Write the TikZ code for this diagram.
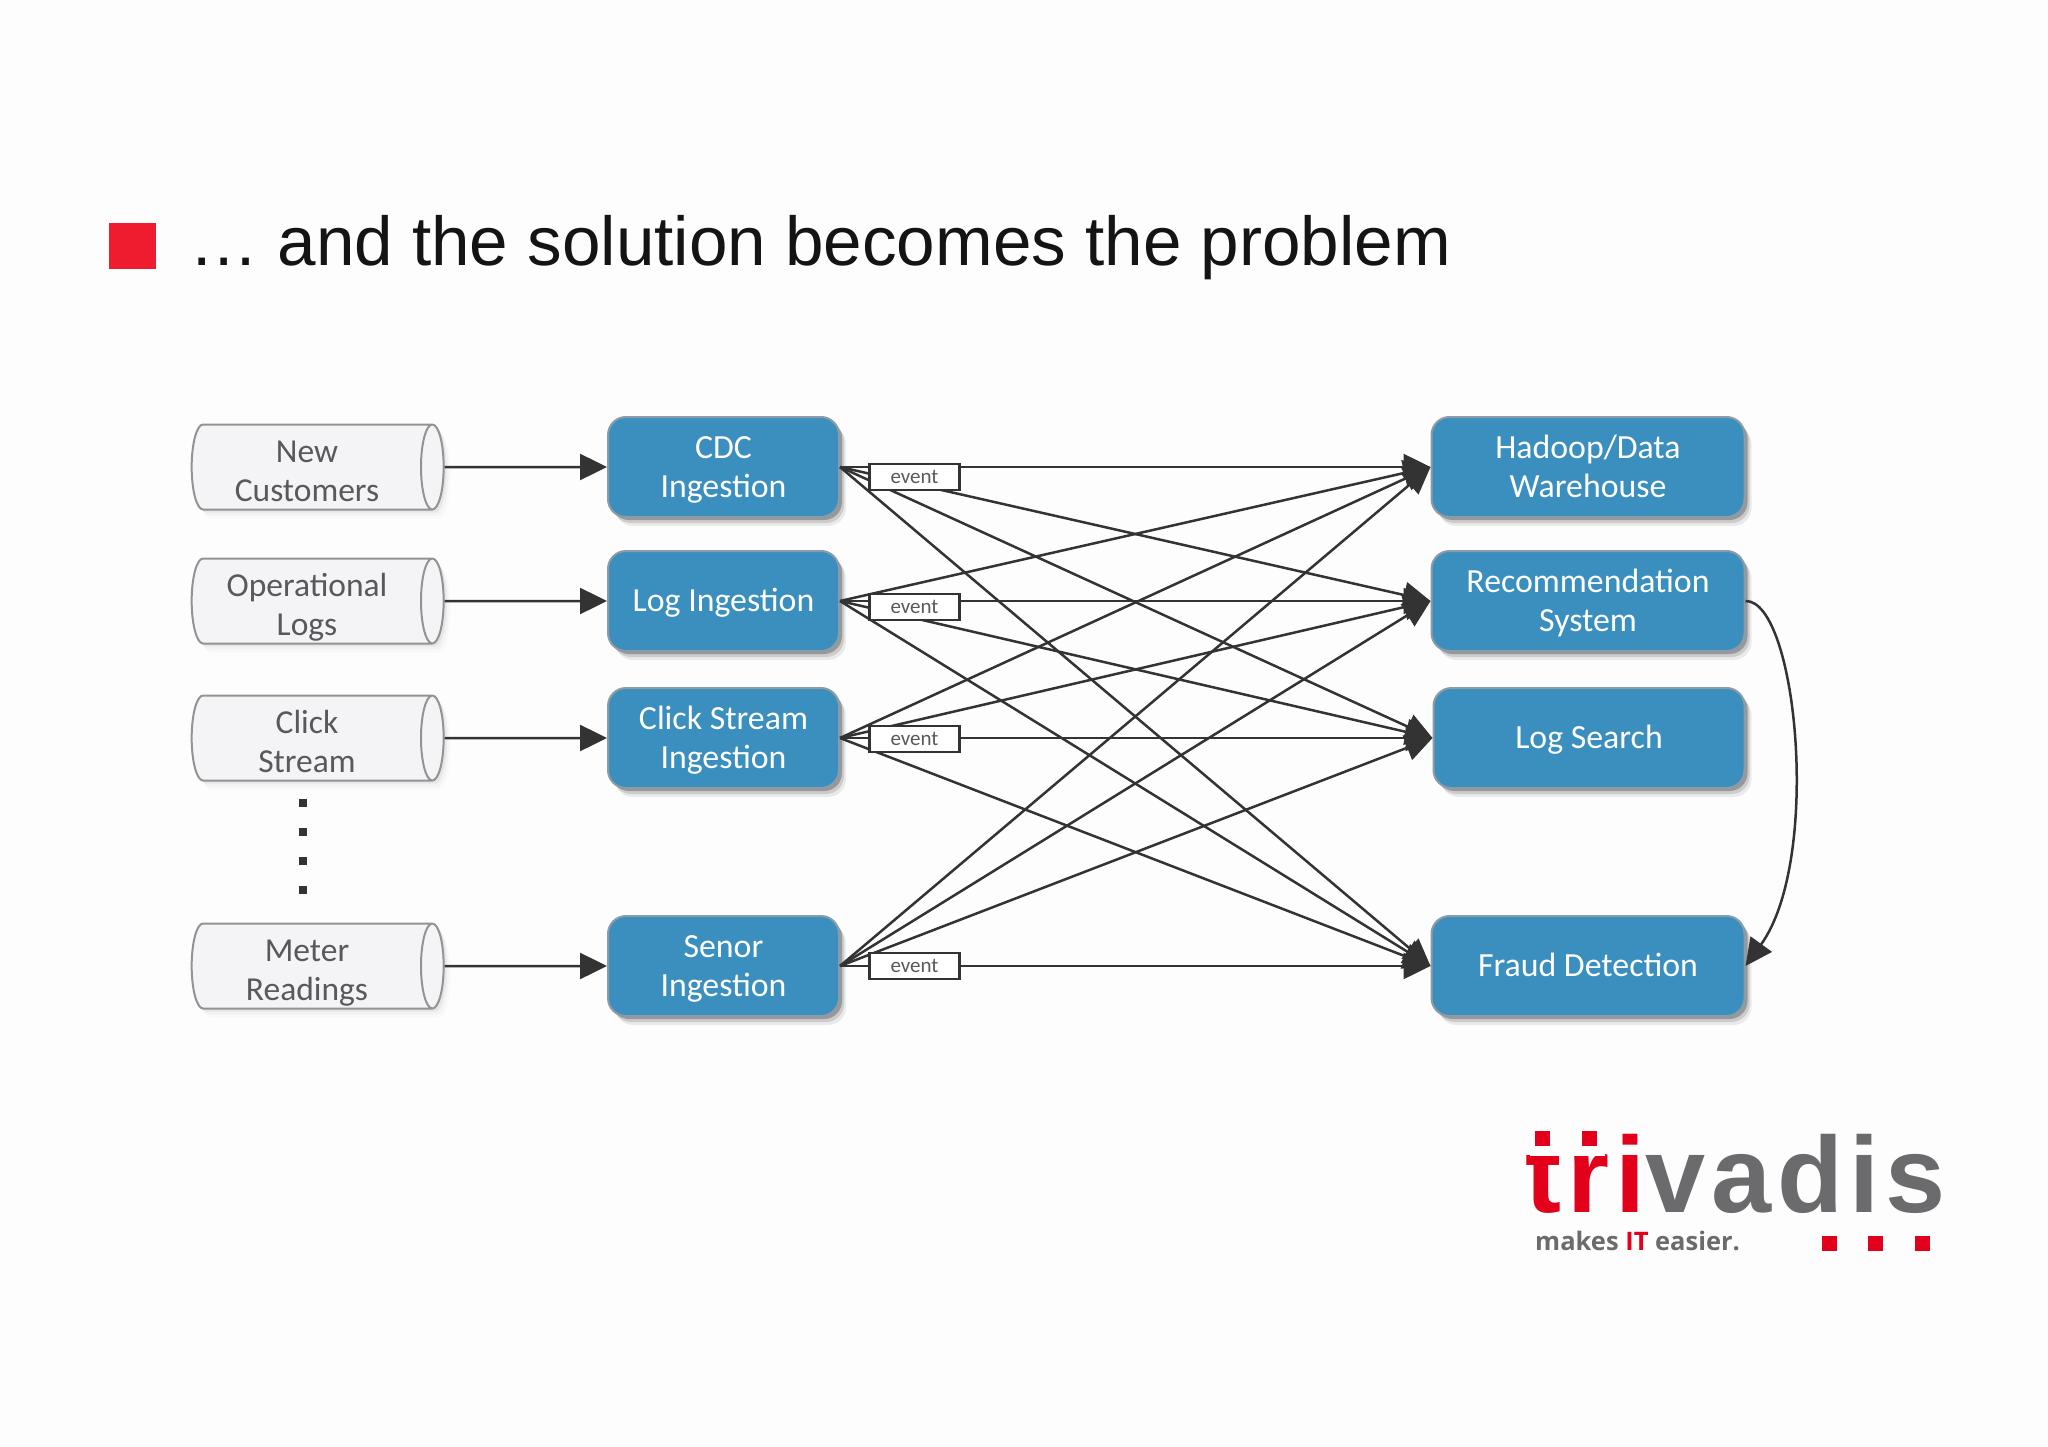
\documentclass[tikz,border=0pt]{standalone}
\usepackage{fontspec}
\setmainfont{Carlito}
\newfontfamily\titlefont{Liberation Sans}
\newfontfamily\logofont[LetterSpace=5.6]{Liberation Sans Bold}
\newfontfamily\sloganfont{Open Sans}
\usetikzlibrary{arrows.meta,shapes.geometric,shadows}
\definecolor{pagebg}{HTML}{FDFDFD}
\definecolor{boxblue}{HTML}{3A8FBE}
\definecolor{boxedge}{HTML}{8C9BA6}
\definecolor{srcfill}{HTML}{F4F3F6}
\definecolor{textgray}{HTML}{58595B}
\definecolor{linedark}{HTML}{333333}
\definecolor{brandred}{HTML}{E2001A}
\definecolor{brandgray}{HTML}{6B6B6E}
\tikzset{
  softshadow/.style={drop shadow={shadow xshift=7pt, shadow yshift=-9pt, fill=black, opacity=#1*0.3},
    drop shadow={shadow xshift=5pt, shadow yshift=-6pt, fill=black, opacity=#1*0.5},
    drop shadow={shadow xshift=3pt, shadow yshift=-3pt, fill=black, opacity=#1}},
  srcbox/.style={draw=gray!85, line width=2pt, cylinder, shape border rotate=0, shape aspect=0.27,
    fill=srcfill, minimum width=85pt, minimum height=252pt, inner sep=0pt, text width=210pt, align=center,
    text=textgray, text depth=47pt, font=\fontsize{33.5}{39}\selectfont,
    execute at begin node={\advance\rightskip 9pt\relax\rule{0pt}{37pt}}, softshadow=0.05},
  procbox/.style={draw=boxedge, line width=2pt, fill=boxblue, rounded corners=18pt, minimum height=100pt,
    align=center, text=white, text depth=9pt, inner sep=0pt, font=\fontsize{33.8}{39}\selectfont,
    execute at begin node={\rule{0pt}{30pt}}, softshadow=0.25},
  proctwo/.style={procbox, execute at begin node={\rule{0pt}{69pt}}},
  eventbox/.style={draw=linedark, line width=2.5pt, fill=white, minimum width=90pt, minimum height=26pt,
    inner sep=0pt, text=textgray, font=\fontsize{21}{24}\selectfont},
  dotbox/.style={fill=linedark, minimum size=8pt, inner sep=0pt},
  logodot/.style={fill=brandred, minimum size=15pt, inner sep=0pt},
  link/.style={-{Triangle[length=27pt, width=26pt]}, draw=linedark, line width=2.5pt}
}
\begin{document}
\begin{tikzpicture}[x=1pt, y=-1pt]
  \fill[pagebg] (0,0) rectangle (2048,1447);
  \useasboundingbox (0,0) rectangle (2048,1447);

  \node[fill={rgb,255:red,238;green,28;blue,46}, minimum width=47pt, minimum height=46pt, inner sep=0pt] (bullet) at (132.5,246) {};
  \node[anchor=base west, inner sep=0pt, text=black!92, font=\titlefont\fontsize{69.2}{80}\selectfont] (title) at (189,265.5) {\ldots{} and the solution becomes the problem};

  \node[srcbox] (s1) at (311.5,467) {New\\Customers};
  \node[srcbox] (s2) at (311.5,601) {Operational\\Logs};
  \node[srcbox] (s3) at (311.5,738) {Click\\Stream};
  \node[srcbox] (s4) at (311.5,966) {Meter\\Readings};

  \node[dotbox] (d1) at (303,803) {};
  \node[dotbox] (d2) at (303,832) {};
  \node[dotbox] (d3) at (303,861) {};
  \node[dotbox] (d4) at (303,890) {};

  \node[proctwo, minimum width=231pt] (cdc) at (723.5,467) {CDC\\Ingestion};
  \node[procbox, minimum width=231pt] (logi) at (723.5,601) {Log Ingestion};
  \node[proctwo, minimum width=231pt] (clicki) at (723.5,738) {Click Stream\\Ingestion};
  \node[proctwo, minimum width=231pt] (senor) at (723.5,966) {Senor\\Ingestion};

  \node[proctwo, minimum width=313pt] (hadoop) at (1588,467) {Hadoop/Data\\Warehouse};
  \node[proctwo, minimum width=313pt] (recom) at (1588,601) {Recommendation\\System};
  \node[procbox, minimum width=311pt] (search) at (1589,738) {Log Search};
  \node[procbox, minimum width=313pt] (fraud) at (1588,966) {Fraud Detection};

  \draw[link] (s1) to (cdc);
  \draw[link] (s2) to (logi);
  \draw[link] (s3) to (clicki);
  \draw[link] (s4) to (senor);

  \draw[link] (cdc.east) to (hadoop.west);
  \draw[link] (cdc.east) to (recom.west);
  \draw[link] (cdc.east) to (search.west);
  \draw[link] (cdc.east) to (fraud.west);
  \draw[link] (logi.east) to (hadoop.west);
  \draw[link] (logi.east) to (recom.west);
  \draw[link] (logi.east) to (search.west);
  \draw[link] (logi.east) to (fraud.west);
  \draw[link] (clicki.east) to (hadoop.west);
  \draw[link] (clicki.east) to (recom.west);
  \draw[link] (clicki.east) to (search.west);
  \draw[link] (clicki.east) to (fraud.west);
  \draw[link] (senor.east) to (hadoop.west);
  \draw[link] (senor.east) to (recom.west);
  \draw[link] (senor.east) to (search.west);
  \draw[link] (senor.east) to (fraud.west);
  \draw[link] (recom.east) .. controls (1797,600) and (1822,860) .. (fraud.east);

  \node[eventbox] (e1) at (914.5,477) {event};
  \node[eventbox] (e2) at (914.5,607) {event};
  \node[eventbox] (e3) at (914.5,739) {event};
  \node[eventbox] (e4) at (914.5,966) {event};

  \node[anchor=base west, inner sep=0pt, text=brandgray, font=\logofont\fontsize{108}{110}\selectfont] (logo) at (1525,1212) {\textcolor{brandred}{tri}vadis};
  \fill[pagebg] (1530,1125) rectangle (1605,1156);
  \node[logodot] (t1) at (1542.5,1138.5) {};
  \node[logodot] (t2) at (1589,1138.5) {};
  \node[anchor=base west, inner sep=0pt, text=brandgray, font=\sloganfont\bfseries\fontsize{25.5}{30}\selectfont] (slogan) at (1535,1250) {makes \textcolor{brandred}{IT} easier.};
  \node[logodot] (p1) at (1829.5,1243) {};
  \node[logodot] (p2) at (1875.5,1243) {};
  \node[logodot] (p3) at (1922.5,1243) {};
\end{tikzpicture}
\end{document}
